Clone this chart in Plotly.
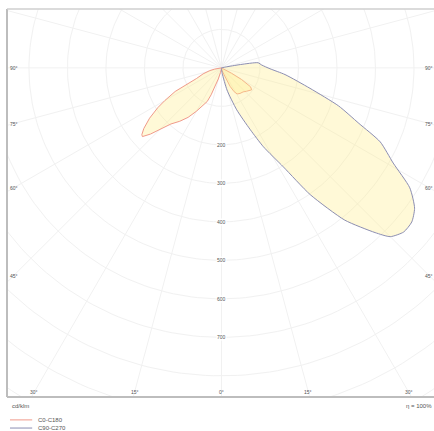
import numpy as np
import plotly.graph_objects as go

# ---- data (gamma in degrees from nadir; negative = C180 / C270 side), intensity in cd/klm
c0_gamma = [-180, -90, -85, -80, -77, -72, -67, -65, -63, -60, -58, -55, -52, -50, -49, -47, -45, -42,
            -38, -34, -30, -27, -23, -21, -19, -16, -12, -6, 0, 6, 12, 18, 22, 25, 28, 31, 36, 42,
            47, 51, 54, 57, 60, 62, 65, 70, 80, 90, 180]
c0_int = [0, 0, 5, 18, 31, 50, 70, 95, 135, 170, 195, 228, 256, 270, 272, 252, 228, 196,
          176, 155, 130, 110, 95, 75, 50, 30, 12, 4, 2, 3, 8, 15, 25, 53, 70, 79, 82, 84,
          89, 94, 97, 90, 60, 30, 10, 3, 0, 0, 0]

c90_gamma = [-180, -90, -30, 0, 8, 14, 20, 25, 28, 32, 35, 39, 43, 45, 48, 51, 54, 57.5, 61, 65,
             68, 72, 77, 84, 89, 94, 98, 100, 102, 105, 120, 180]
c90_int = [0, 0, 0, 2, 15, 59, 116, 177, 232, 303, 402, 509, 585, 620, 637, 636, 620, 580, 510, 455,
           385, 320, 236, 166, 126, 105, 96, 50, 10, 0, 0, 0]

ring_values = [100, 200, 300, 400, 500, 600, 700, 800, 900, 1000, 1100, 1200]
ring_labels = [200, 300, 400, 500, 600, 700]
spoke_angles = list(range(0, 360, 15))
side_labels = [90, 75, 60, 45]
bottom_labels = [-30, -15, 0, 15, 30]


def to_xy(gamma, inten):
    g = np.radians(np.asarray(gamma, dtype=float))
    r = np.asarray(inten, dtype=float)
    return r * np.sin(g), -r * np.cos(g)


fig = go.Figure()

grid_col = "#f1f1f1"
t = np.linspace(0, 2 * np.pi, 241)
for rv in ring_values:
    fig.add_trace(go.Scatter(x=rv * np.cos(t), y=rv * np.sin(t), mode="lines",
                             line=dict(color=grid_col, width=1), hoverinfo="skip", showlegend=False))
for a in spoke_angles:
    gx, gy = to_xy([a, a], [0, 1300])
    fig.add_trace(go.Scatter(x=gx, y=gy, mode="lines", line=dict(color=grid_col, width=1),
                             hoverinfo="skip", showlegend=False))

fill_col = "rgba(255,238,140,0.35)"
red_col = "#f09a8a"
blue_col = "#8c8eb2"
x0, y0 = to_xy(c0_gamma, c0_int)
fig.add_trace(go.Scatter(x=x0, y=y0, mode="lines", name="C0-C180", fill="toself",
                         fillcolor=fill_col, line=dict(color=red_col, width=1), showlegend=False))
x9, y9 = to_xy(c90_gamma, c90_int)
fig.add_trace(go.Scatter(x=x9, y=y9, mode="lines", name="C90-C270", fill="toself",
                         fillcolor=fill_col, line=dict(color=blue_col, width=1, shape="spline", smoothing=0.6),
                         showlegend=False))

lab_font = dict(family="Liberation Sans, Arial, sans-serif", size=5, color="#555555")
ann = []
for v in ring_labels:
    ann.append(dict(x=0, y=-v, xref="x", yref="y", text=str(v), showarrow=False, font=lab_font,
                    bgcolor="white", borderpad=0))
for a in side_labels:
    yy = -540 / np.tan(np.radians(a)) if a != 90 else 0
    for sx in (-1, 1):
        ann.append(dict(x=sx * 540, y=yy, xref="x", yref="y", text=f"{a}°", showarrow=False,
                        font=lab_font))
for a in bottom_labels:
    ann.append(dict(x=842 * np.tan(np.radians(abs(a))) * np.sign(a), y=-842, xref="x", yref="y",
                    text=f"{abs(a)}°", showarrow=False, font=lab_font))

small = dict(family="Liberation Sans, Arial, sans-serif", size=6, color="#555555")
ann.append(dict(x=0.006, y=-0.022, xref="paper", yref="paper", text="cd/klm", showarrow=False,
                xanchor="left", yanchor="middle", font=small))
ann.append(dict(x=1.0, y=-0.022, xref="paper", yref="paper", text="η = 100%", showarrow=False,
                xanchor="right", yanchor="middle", font=small))
ann.append(dict(x=0.068, y=-0.059, xref="paper", yref="paper", text="C0-C180", showarrow=False,
                xanchor="left", yanchor="middle", font=small))
ann.append(dict(x=0.068, y=-0.08, xref="paper", yref="paper", text="C90-C270", showarrow=False,
                xanchor="left", yanchor="middle", font=small))

shapes = [
    dict(type="line", xref="paper", yref="paper", x0=0, x1=0, y0=0, y1=1,
         line=dict(color="#bdbdbd", width=2)),
    dict(type="line", xref="paper", yref="paper", x0=0, x1=1, y0=0, y1=0,
         line=dict(color="#bdbdbd", width=2)),
    dict(type="line", xref="paper", yref="paper", x0=0, x1=1, y0=1, y1=1,
         line=dict(color="#cfcfcf", width=1.5)),
    dict(type="line", xref="paper", yref="paper", x0=0.007, x1=0.059, y0=-0.059, y1=-0.059,
         line=dict(color=red_col, width=1)),
    dict(type="line", xref="paper", yref="paper", x0=0.007, x1=0.059, y0=-0.08, y1=-0.08,
         line=dict(color=blue_col, width=1)),
]

fig.update_layout(
    width=434, height=431,
    margin=dict(l=7, r=0, t=9, b=34),
    paper_bgcolor="white", plot_bgcolor="white",
    xaxis=dict(range=[-557, 552], showgrid=False, zeroline=False, showticklabels=False, ticks=""),
    yaxis=dict(range=[-855, 153], showgrid=False, zeroline=False, showticklabels=False, ticks=""),
    annotations=ann, shapes=shapes, showlegend=False,
)

fig.write_html("out.html", config={"displayModeBar": False},
               post_script="document.body.style.margin='0';")
